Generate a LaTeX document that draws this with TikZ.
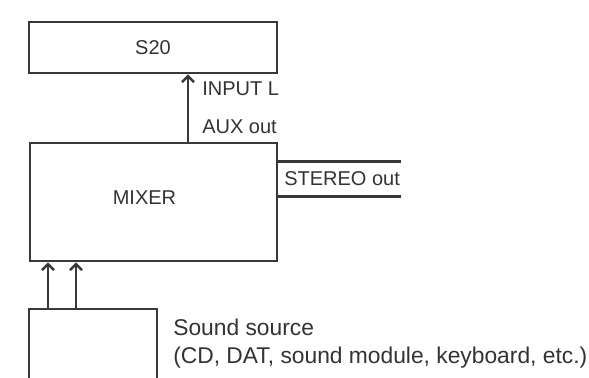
\documentclass[tikz,border=0pt]{standalone}
\usepackage{fontspec}
\setmainfont{Liberation Sans}
\usepackage{xcolor}
\usepackage{tikz}
\usetikzlibrary{arrows.meta, positioning}

\begin{document}
\begin{tikzpicture}[
  x=0.5pt, y=-0.5pt,
  line width=1.3pt, draw=black!78, text=black!80,
  box/.style={rectangle, draw=black!78, line width=1.3pt, inner sep=0pt, text centered, font=\fontsize{10}{12}\selectfont},
  lbl/.style={inner sep=0pt, font=\fontsize{10}{12}\selectfont},
  arrow/.style={draw=black!78, line width=1.3pt, -{Straight Barb[length=3pt, width=6pt]}},
  wire/.style={draw=black!78, line width=1.3pt}
]
\useasboundingbox (0,0) rectangle (589,377);

% Units
\node (s20) [box, minimum width=124pt, minimum height=25.5pt] at (153,47.5) {S20};
\node (mixer) [box, minimum width=123.5pt, minimum height=59pt,
  label={[lbl, xshift=-4.5pt, yshift=2pt]center:MIXER}] at (153.5,202) {};
\node (source) [box, minimum width=64pt, minimum height=45pt] at (93,354) {};

% Labels
\node (input) [lbl, anchor=base west] at (201,95) {INPUT L};
\node (aux) [lbl, anchor=base west] at (201,133) {AUX out};
\node (stereo) [lbl, anchor=west, minimum height=16pt] at (283,179) {STEREO out};
\node (srctext) [lbl, anchor=base west, align=left, font=\fontsize{11.4}{14}\selectfont] at (172,363)
  {Sound source\\(CD, DAT, sound module, keyboard, etc.)};

% Connections
\coordinate (auxpt) at (188,143);
\draw [arrow] (auxpt) -- (auxpt |- s20.south);
\draw [wire] (mixer.east |- stereo.north) -- (stereo.north east);
\draw [wire] (mixer.east |- stereo.south) -- (stereo.south east);
\draw [arrow] ([xshift=-22.5pt]source.north) -- ([xshift=-22.5pt]source.north |- mixer.south);
\draw [arrow] ([xshift=-8.5pt]source.north) -- ([xshift=-8.5pt]source.north |- mixer.south);
\end{tikzpicture}
\end{document}
